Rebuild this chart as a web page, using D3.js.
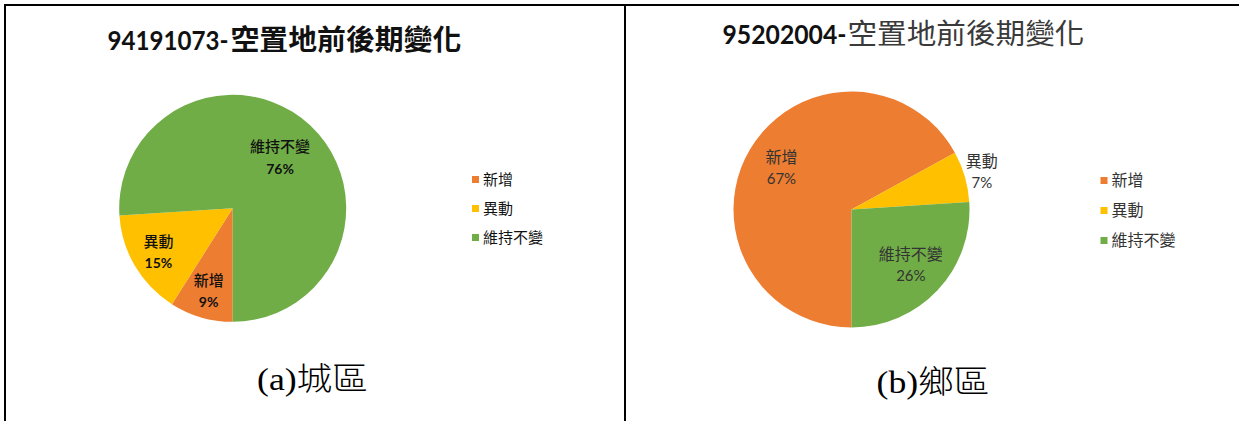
<!DOCTYPE html>
<html>
<head>
<meta charset="utf-8">
<script src="https://cdn.jsdelivr.net/npm/d3@7"></script>
<style>
  html, body { margin: 0; padding: 0; background: #fff; }
  svg { display: block; }
</style>
</head>
<body>
<svg id="fig" width="1239" height="421"></svg>
<script>
// Categories and shares (%) of vacant-land change for each sample plot
const categories = ["新增", "異動", "維持不變"];
const cityValues = [9, 15, 76];
const ruralValues = [67, 7, 26];
const sliceColors = ["#ED7D31", "#FFC000", "#70AD47"];
const plotCodes = ["94191073-", "95202004-"];
const titleText = "空置地前後期變化";
const captions = ["(a)城區", "(b)鄉區"];

const LATIN = "Lato, 'Open Sans', 'Noto Sans CJK TC', sans-serif";
const CJK = "'Noto Sans CJK TC', 'Noto Sans CJK SC', sans-serif";
const SERIF = "'Liberation Serif', 'Times New Roman', 'Noto Sans CJK TC', serif";

const svg = d3.select("#fig");
const color = d3.scaleOrdinal().domain(categories).range(sliceColors);

// Table frame around the two panels
const frame = svg.append("g").attr("stroke", "#000").attr("stroke-width", 2);
frame.append("line").attr("x1", 4).attr("x2", 1239).attr("y1", 5).attr("y2", 5);
frame.append("line").attr("x1", 5).attr("x2", 5).attr("y1", 4).attr("y2", 421);
frame.append("line").attr("x1", 625).attr("x2", 625).attr("y1", 4).attr("y2", 421);

const panels = [
  {
    values: cityValues, code: plotCodes[0], caption: captions[0],
    cx: 232.7, cy: 208.3, r: 113.5,
    title: { cx: 284.5, baseline: 49.5, codeSize: 26.5, codeW: 121, gap: 2, cjkW: 231, size: 28, cjkWeight: 700, cjkColor: "#111" },
    labelRadius: [0.76, 0.76, 0.61], labelSize: 15, pctSize: 14, labelWeight: 500, labelColor: "#111", lineGap: 22,
    legend: { x: 472, y: 179.5, step: 29, size: 15, color: "#111" },
    cap: { cx: 312.5, baseline: 390, width: 111 }
  },
  {
    values: ruralValues, code: plotCodes[1], caption: captions[1],
    cx: 851.5, cy: 209.5, r: 118,
    title: { cx: 903.5, baseline: 43.5, codeSize: 26.5, codeW: 124, gap: 1, cjkW: 237, size: 28, cjkWeight: 400, cjkColor: "#3a3a3a" },
    labelRadius: [0.69, 1.15, 0.69], labelSize: 16, pctSize: 15, labelWeight: 400, labelColor: "#333", lineGap: 21,
    legend: { x: 1100.5, y: 180.5, step: 30, size: 16, color: "#333" },
    cap: { cx: 933, baseline: 393, width: 113 }
  }
];

const pie = d3.pie().sort(null).value(d => d.value)
  .startAngle(Math.PI).endAngle(3 * Math.PI);

panels.forEach(p => {
  const data = categories.map((c, i) => ({ name: c, value: p.values[i] }));
  const arcs = pie(data);
  const g = svg.append("g").attr("transform", `translate(${p.cx},${p.cy})`);
  const arc = d3.arc().innerRadius(0).outerRadius(p.r);

  g.selectAll("path.slice").data(arcs).join("path")
    .attr("class", "slice")
    .attr("d", arc)
    .attr("fill", d => color(d.data.name));

  // Data labels: category name over percentage
  arcs.forEach((a, i) => {
    const lr = p.r * p.labelRadius[i];
    const [lx, ly] = d3.arc().innerRadius(lr).outerRadius(lr).centroid(a);
    g.append("text")
      .attr("x", lx).attr("y", ly - p.lineGap / 2 + p.labelSize * 0.36)
      .attr("text-anchor", "middle")
      .attr("font-family", CJK).attr("font-size", p.labelSize)
      .attr("font-weight", p.labelWeight).attr("fill", p.labelColor)
      .text(a.data.name);
    g.append("text")
      .attr("x", lx).attr("y", ly + p.lineGap / 2 + p.pctSize * 0.36)
      .attr("text-anchor", "middle")
      .attr("font-family", LATIN).attr("font-size", p.pctSize)
      .attr("font-weight", p.labelWeight > 400 ? 700 : 400).attr("fill", p.labelColor)
      .text(a.data.value + "%");
  });

  // Title: bold plot code followed by the description
  const t = p.title;
  const total = t.codeW + t.gap + t.cjkW;
  const x0 = t.cx - total / 2;
  svg.append("text")
    .attr("x", x0).attr("y", t.baseline)
    .attr("font-family", LATIN).attr("font-size", t.codeSize).attr("font-weight", 700)
    .attr("fill", "#111")
    .attr("textLength", t.codeW).attr("lengthAdjust", "spacingAndGlyphs")
    .text(p.code);
  svg.append("text")
    .attr("x", x0 + t.codeW + t.gap).attr("y", t.baseline)
    .attr("font-family", CJK).attr("font-size", t.size).attr("font-weight", t.cjkWeight)
    .attr("fill", t.cjkColor)
    .attr("textLength", t.cjkW).attr("lengthAdjust", "spacingAndGlyphs")
    .text(titleText);

  // Legend
  const L = p.legend;
  const lg = svg.append("g");
  categories.forEach((c, i) => {
    const yc = L.y + i * L.step;
    lg.append("rect").attr("x", L.x).attr("y", yc - 3.5).attr("width", 7).attr("height", 7)
      .attr("fill", color(c));
    lg.append("text").attr("x", L.x + 11).attr("y", yc + L.size * 0.36)
      .attr("font-family", CJK).attr("font-size", L.size).attr("fill", L.color)
      .text(c);
  });

  // Caption under the chart
  svg.append("text")
    .attr("x", p.cap.cx - p.cap.width / 2).attr("y", p.cap.baseline)
    .attr("font-family", SERIF).attr("font-size", 32).attr("font-weight", 300)
    .attr("fill", "#000")
    .attr("textLength", p.cap.width).attr("lengthAdjust", "spacingAndGlyphs")
    .text(p.caption);
});
</script>
</body>
</html>
